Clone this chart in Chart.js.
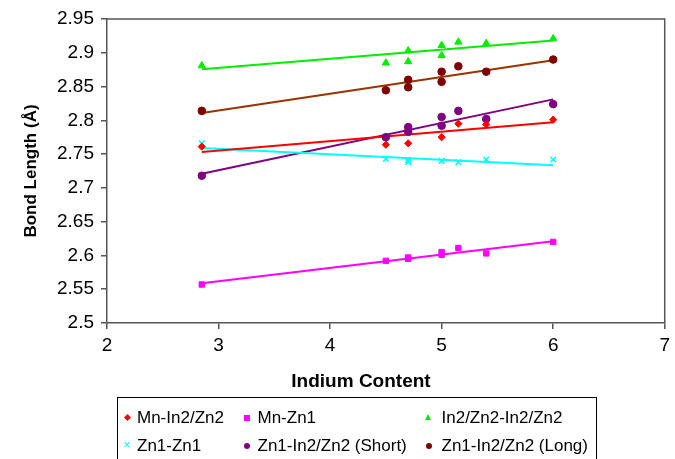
<!DOCTYPE html>
<html><head><meta charset="utf-8">
<script src="https://cdn.jsdelivr.net/npm/chart.js@4.4.0/dist/chart.umd.min.js"></script>
<style>
html,body{margin:0;padding:0;background:#fff;}
#wrap{position:relative;width:675px;height:459px;overflow:hidden;font-family:"Liberation Sans",Arial,sans-serif;}
#box{position:absolute;left:0;top:0;width:675px;height:392px;}
#xtitle{position:absolute;left:261px;width:200px;top:370px;text-align:center;font-weight:bold;font-size:19px;line-height:22px;color:#000;}
#legend{position:absolute;left:117px;top:397px;width:480px;height:80px;border:1px solid #000;box-sizing:border-box;}
.txt{position:absolute;font-size:17px;line-height:20px;color:#000;white-space:nowrap;}
.mk{position:absolute;}
</style></head>
<body><div id="wrap">
<div id="box"><canvas id="cv"></canvas></div>
<div id="xtitle">Indium Content</div>
<div id="legend"></div>
</div>
<script>
// ---- data ----
const seriesNames = ["Mn-In2/Zn2","Mn-Zn1","In2/Zn2-In2/Zn2","Zn1-Zn1","Zn1-In2/Zn2 (Short)","Zn1-In2/Zn2 (Long)"];
const xTitle = "Indium Content";
const yTitle = "Bond Length (Å)";

const mnIn2Zn2X = [2.85, 4.5, 4.7, 5.0, 5.15, 5.4, 6.0];
const mnIn2Zn2Y = [2.761, 2.764, 2.766, 2.775, 2.795, 2.794, 2.801];

const mnZn1X = [2.85, 4.5, 4.7, 4.7, 5.0, 5.0, 5.15, 5.4, 6.0];
const mnZn1Y = [2.557, 2.592, 2.595, 2.597, 2.601, 2.605, 2.611, 2.603, 2.620];

const in2Zn2X = [2.85, 4.5, 4.7, 4.7, 5.0, 5.0, 5.15, 5.4, 6.0];
const in2Zn2Y = [2.881, 2.885, 2.903, 2.887, 2.911, 2.896, 2.916, 2.914, 2.921];

const zn1Zn1X = [2.85, 4.5, 4.7, 4.7, 5.0, 5.15, 5.4, 6.0];
const zn1Zn1Y = [2.766, 2.743, 2.741, 2.738, 2.740, 2.738, 2.742, 2.742];

const shortX = [2.85, 4.5, 4.7, 4.7, 5.0, 5.0, 5.15, 5.4, 6.0];
const shortY = [2.718, 2.775, 2.790, 2.783, 2.805, 2.792, 2.814, 2.802, 2.824];

const longX = [2.85, 4.5, 4.7, 4.7, 5.0, 5.0, 5.15, 5.4, 6.0];
const longY = [2.814, 2.8445, 2.860, 2.849, 2.872, 2.857, 2.880, 2.872, 2.890];

// trend line end points
const trendX = [2.85, 6.0];
const mnIn2Zn2Trend = [2.753, 2.797];
const mnZn1Trend = [2.559, 2.621];
const in2Zn2Trend = [2.8757, 2.918];
const zn1Zn1Trend = [2.759, 2.7336];
const shortTrend = [2.721, 2.831];
const longTrend = [2.811, 2.889];

const xTicks = [2, 3, 4, 5, 6, 7];
const yTicks = [2.5, 2.55, 2.6, 2.65, 2.7, 2.75, 2.8, 2.85, 2.9, 2.95];

// ---- build ----
function pts(xs, ys){ return xs.map((x,i)=>({x:x, y:ys[i]})); }

const styles = [
  {pc:'#ff0000', lc:'#ff0000', ps:'rectRot', r:3.6},
  {pc:'#ff00ff', lc:'#ff00ff', ps:'rect', r:3.8},
  {pc:'#00ee00', lc:'#00ee00', ps:'triangle', r:4.2},
  {pc:'#00ffff', lc:'#00ffff', ps:'crossRot', r:4},
  {pc:'#800080', lc:'#800080', ps:'circle', r:3.8},
  {pc:'#800000', lc:'#993300', ps:'circle', r:3.8}
];
const pointSets = [[mnIn2Zn2X,mnIn2Zn2Y],[mnZn1X,mnZn1Y],[in2Zn2X,in2Zn2Y],[zn1Zn1X,zn1Zn1Y],[shortX,shortY],[longX,longY]];
const trends = [mnIn2Zn2Trend, mnZn1Trend, in2Zn2Trend, zn1Zn1Trend, shortTrend, longTrend];

const datasets = [];
pointSets.forEach((s,i)=>{
  const st = styles[i];
  datasets.push({label: seriesNames[i], type:'scatter', data: pts(s[0], s[1]),
    pointStyle: st.ps, pointRadius: st.r, pointHoverRadius: st.r,
    backgroundColor: st.pc, borderColor: st.pc, pointBorderWidth: st.ps==='crossRot'?1.5:1, showLine:false});
});
trends.forEach((t,i)=>{
  const st = styles[i];
  datasets.push({label: seriesNames[i]+' trend', type:'line', data: pts(trendX, t),
    borderColor: st.lc, borderWidth: 2, pointRadius: 0, fill:false, tension:0});
});

const frame = {
  id:'frame',
  afterDraw(chart){
    const a = chart.chartArea, c = chart.ctx;
    c.save(); c.strokeStyle = '#555'; c.lineWidth = 1.5;
    c.beginPath(); c.moveTo(a.left, a.top); c.lineTo(a.right, a.top); c.lineTo(a.right, a.bottom); c.stroke();
    c.restore();
  }
};

new Chart(document.getElementById('cv'), {
  type: 'scatter',
  data: { datasets },
  plugins: [frame],
  options: {
    responsive: true, maintainAspectRatio: false, animation: false,
    layout: { padding: { top: 19, right: 7, bottom: 0, left: 0 } },
    plugins: { legend: { display: false }, tooltip: { enabled: false } },
    scales: {
      x: {
        type: 'linear', min: 2, max: 7,
        afterFit(s){ s.height = 69; },
        afterBuildTicks(s){ s.ticks = xTicks.map(v=>({value:v})); },
        ticks: { color:'#000', font:{ family:'"Liberation Sans", Arial, sans-serif', size:19 }, padding: 5, maxRotation:0 },
        grid: { drawOnChartArea:false, drawTicks:true, tickLength:6, color:'#555', lineWidth:1.5 },
        border: { color:'#555', width:1.5 },
        title: { display:false, text: xTitle }
      },
      y: {
        type: 'linear', min: 2.5, max: 2.95,
        afterFit(s){ s.width = 107; },
        afterBuildTicks(s){ s.ticks = yTicks.map(v=>({value:v})); },
        ticks: { color:'#000', font:{ family:'"Liberation Sans", Arial, sans-serif', size:19 }, padding: 7,
          callback: v => String(Number(v.toFixed(2))) },
        grid: { drawOnChartArea:false, drawTicks:true, tickLength:6, color:'#555', lineWidth:1.5 },
        border: { color:'#555', width:1.5 },
        title: { display:true, text: yTitle, color:'#000', font:{ family:'"Liberation Sans", Arial, sans-serif', size:17, weight:'bold' }, padding:{ top: 21, bottom: 0 } }
      }
    }
  }
});

// ---- HTML legend (3 columns x 2 rows) ----
const legend = document.getElementById('legend');
const colMarker = [9.5, 128.5, 310.5];
const colText = [19, 139.5, 323.5];
const rowCenter = [19.5, 48];
function markerHtml(i, cx, cy){
  const c = styles[i].pc;
  switch(styles[i].ps){
    case 'rectRot': return `<div class="mk" style="left:${cx-2.5}px;top:${cy-2.5}px;width:5px;height:5px;background:${c};transform:rotate(45deg)"></div>`;
    case 'rect': return `<div class="mk" style="left:${cx-3}px;top:${cy-3}px;width:6px;height:6px;background:${c}"></div>`;
    case 'triangle': return `<div class="mk" style="left:${cx-3.5}px;top:${cy-3.5}px;width:0;height:0;border-left:3.5px solid transparent;border-right:3.5px solid transparent;border-bottom:6px solid ${c}"></div>`;
    case 'crossRot': return `<div class="mk" style="left:${cx-4}px;top:${cy-8}px;font-size:12px;line-height:14px;color:${c}">×</div>`;
    default: return `<div class="mk" style="left:${cx-3}px;top:${cy-3}px;width:6px;height:6px;border-radius:50%;background:${c}"></div>`;
  }
}
let html = '';
seriesNames.forEach((name,i)=>{
  const col = i % 3, row = Math.floor(i / 3);
  html += markerHtml(i, colMarker[col], rowCenter[row]);
  html += `<div class="txt" style="left:${colText[col]}px;top:${rowCenter[row]-10}px">${name}</div>`;
});
legend.innerHTML = html;
</script>
</body></html>
